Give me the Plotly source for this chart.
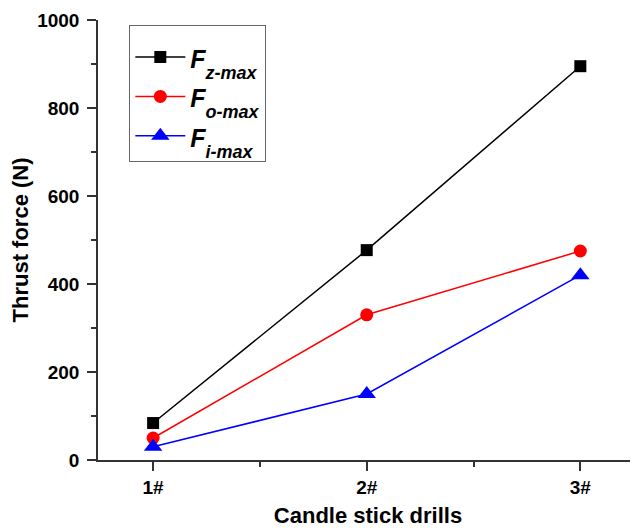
import plotly.graph_objects as go

categories = ["1#", "2#", "3#"]
x_pos = [1, 2, 3]
fz_max = [84, 477, 895]
fo_max = [50, 330, 475]
fi_max = [30, 150, 420]
y_ticks = [0, 200, 400, 600, 800, 1000]
subscripts = ["z-max", "o-max", "i-max"]

names = ["<span style='font-size:25px'><b><i>F</i></b></span>"
         "<span style='font-size:18px;baseline-shift:-11px'><b><i>%s</i></b></span>" % s
         for s in subscripts]

fig = go.Figure()
fig.add_trace(go.Scatter(x=x_pos, y=fz_max, mode="lines+markers", name=names[0],
                         line=dict(color="black", width=1.5),
                         marker=dict(symbol="square", size=12, color="black")))
fig.add_trace(go.Scatter(x=x_pos, y=fo_max, mode="lines+markers", name=names[1],
                         line=dict(color="#ff0000", width=1.5),
                         marker=dict(symbol="circle", size=13, color="#ff0000")))
fig.add_trace(go.Scatter(x=x_pos, y=fi_max, mode="lines+markers", name=names[2],
                         line=dict(color="#0000ff", width=1.5),
                         marker=dict(symbol="triangle-up", size=16, color="#0000ff")))

font_family = "Liberation Sans, Arial, sans-serif"
fig.update_layout(
    width=630, height=520,
    margin=dict(l=90, r=0, t=12, b=68),
    plot_bgcolor="white", paper_bgcolor="white",
    font=dict(family=font_family, color="black"),
    showlegend=True,
    legend=dict(x=0.058, y=0.989, xanchor="left", yanchor="top",
                bgcolor="white", bordercolor="#666666", borderwidth=1,
                font=dict(size=28, family=font_family, color="black"),
                title=dict(text="&nbsp;", font=dict(size=5)),
                itemwidth=50, tracegroupgap=0),
    xaxis=dict(range=[0.742, 3.27], tickvals=x_pos,
               ticktext=["<b>%s</b>" % c for c in categories],
               automargin=False,
               showgrid=False, zeroline=False, showline=True, linecolor="#333333", linewidth=1.5,
               ticks="outside", ticklen=9, tickwidth=1.5, tickcolor="#333333",
               tickfont=dict(size=19, family=font_family, color="black"),
               minor=dict(dtick=0.5, tick0=1, ticks="outside", ticklen=5, tickwidth=1.5, tickcolor="#333333"),
               title=dict(text="<b>Candle stick drills</b>", font=dict(size=22, color="black"), standoff=14)),
    yaxis=dict(range=[0, 1000], tickvals=y_ticks,
               ticktext=["<b>%d</b>" % v for v in y_ticks],
               automargin=False, ticklabelstandoff=4,
               showgrid=False, zeroline=False, showline=True, linecolor="#333333", linewidth=1.5,
               ticks="outside", ticklen=9, tickwidth=1.5, tickcolor="#333333",
               tickfont=dict(size=19, family=font_family, color="black"),
               minor=dict(dtick=100, tick0=0, ticks="outside", ticklen=5, tickwidth=1.5, tickcolor="#333333"),
               title=dict(text="<b>Thrust force (N)</b>", font=dict(size=22, color="black"), standoff=13)),
)

fig.write_html("out.html")
